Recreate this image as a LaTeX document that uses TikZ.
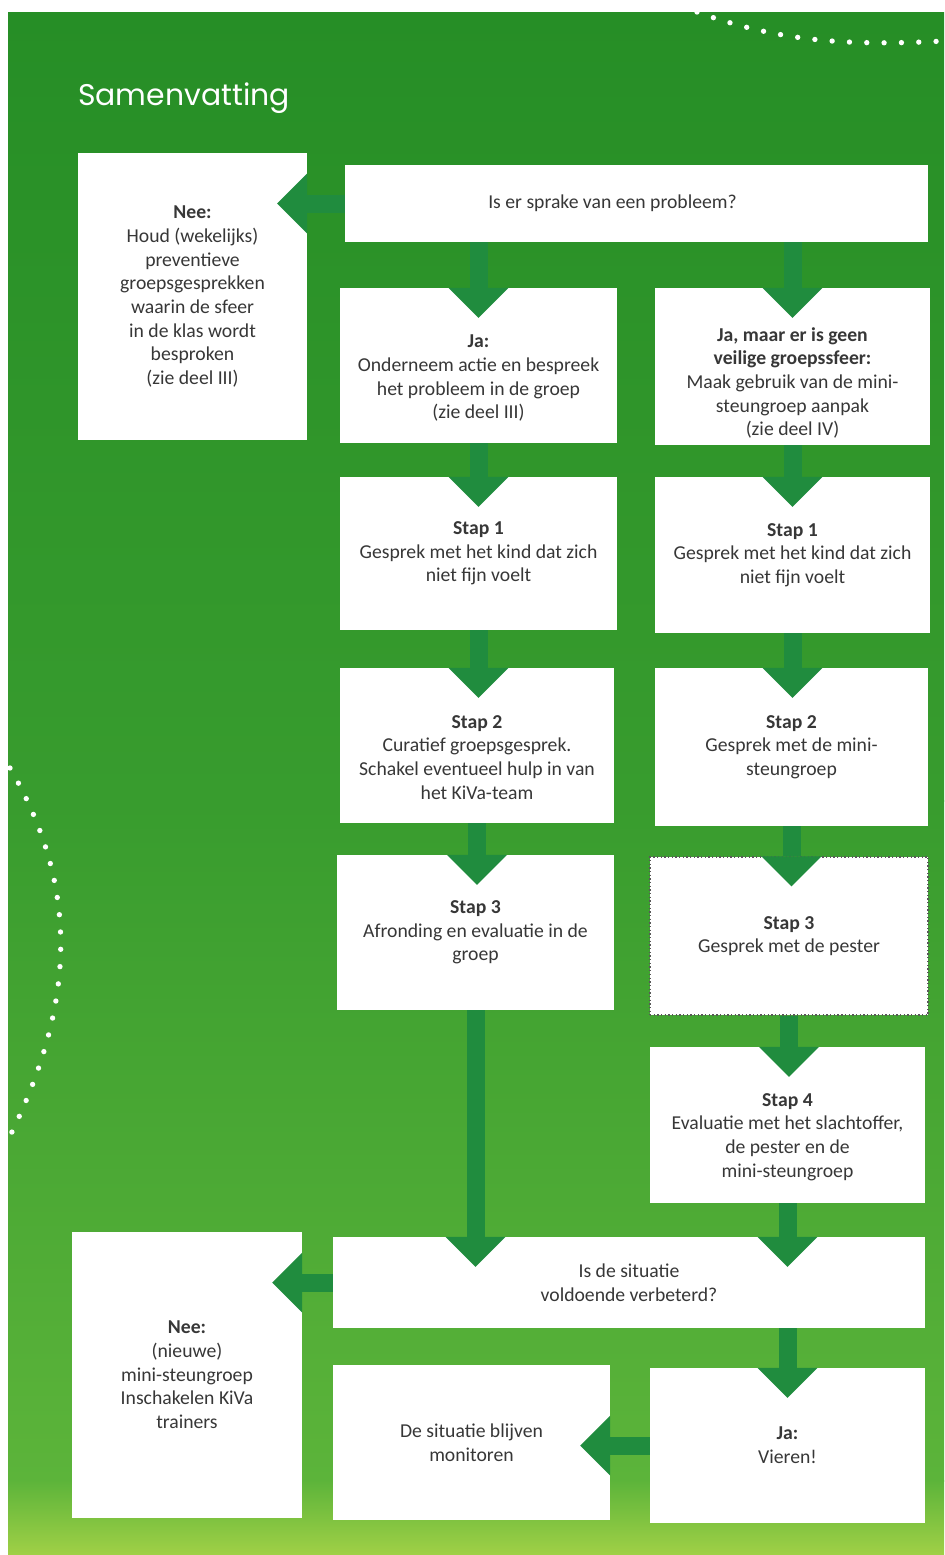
\documentclass[tikz,border=0pt]{standalone}
\usepackage{fontspec}
\setmainfont{Carlito}
\newfontfamily\titlefont{Poppins}
\usetikzlibrary{arrows.meta}
\pgfdeclarelayer{edgelayer}
\pgfdeclarelayer{nodelayer}
\pgfsetlayers{main,nodelayer,edgelayer}
\definecolor{bgtop}{RGB}{38,142,38}
\definecolor{bgmid}{RGB}{56,156,46}
\definecolor{bglow}{RGB}{92,180,58}
\definecolor{bgyel}{RGB}{160,208,70}
\definecolor{arrowgreen}{RGB}{32,140,62}
\definecolor{boxtext}{RGB}{55,55,55}
\newcommand\lager[1]{\rule{0pt}{\dimexpr 0.7\baselineskip+#1\relax}}
\tikzstyle{box}=[rectangle, fill=white, inner sep=2pt, align=center, text=boxtext, font=\fontsize{16.8}{20.2}\selectfont]
\tikzstyle{dotbox}=[box, draw=gray!70!black, line width=0.04cm, dotted]
\tikzstyle{flow}=[draw=arrowgreen, line width=0.54cm, -{Triangle[width=1.8cm, length=0.9cm, line width=0pt]}]
\tikzstyle{dots}=[draw=white, line width=0.16cm, line cap=round, dash pattern=on 0pt off 0.52cm]
\tikzstyle{title}=[text=white, font=\titlefont\fontsize{25.5}{30}\selectfont]

\begin{document}
\begin{tikzpicture}[x=0.03cm, y=-0.03cm]
	\useasboundingbox (0,0) rectangle (944,1555);
	% achtergrond
	\fill[white] (0,0) rectangle (944,1555);
	\shade[top color=bgtop, bottom color=bgmid] (8,12) rectangle (944,801);
	\shade[top color=bgmid, bottom color=bglow] (8,800) rectangle (944,1481);
	\shade[top color=bglow, bottom color=bgyel] (8,1480) rectangle (944,1555);
	\draw[dots] (697,12) .. controls (780,42) and (850,46) .. (944,41);
	\draw[dots] (10,768) .. controls (78,885) and (78,1000) .. (8,1140);
	\node[title] (titel) at (184,98) {Samenvatting};
	\begin{pgfonlayer}{nodelayer}
		\node [style=box, minimum width=6.87cm, minimum height=8.61cm] (nee1) at (192.5, 296.5) {\textbf{Nee:}\\Houd (wekelijks)\\preventieve\\groepsgesprekken\\waarin de sfeer\\in de klas wordt\\besproken\\(zie deel III)};
		\node [style=box, minimum width=17.49cm, minimum height=2.31cm] (vraag1) at (636.5, 203.5) {Is er sprake van een probleem?\hspace*{1.44cm}};
		\node [style=box, minimum width=8.31cm, minimum height=4.65cm] (ja) at (478.5, 365.5) {\lager{0.66cm}\textbf{Ja:}\\Onderneem actie en bespreek\\het probleem in de groep\\(zie deel III)};
		\node [style=box, minimum width=8.25cm, minimum height=4.71cm] (jamaar) at (792.5, 366.5) {\lager{0.9cm}\textbf{Ja, maar er is geen}\\\textbf{veilige groepssfeer:}\\Maak gebruik van de mini-\\steungroep aanpak\\(zie deel IV)};
		\node [style=box, minimum width=8.31cm, minimum height=4.59cm] (stap1l) at (478.5, 553.5) {\textbf{Stap 1}\\Gesprek met het kind dat zich\\niet fijn voelt};
		\node [style=box, minimum width=8.25cm, minimum height=4.68cm] (stap1r) at (792.5, 555) {\textbf{Stap 1}\\Gesprek met het kind dat zich\\niet fijn voelt};
		\node [style=box, minimum width=8.22cm, minimum height=4.65cm] (stap2l) at (477, 745.5) {\lager{0.6cm}\textbf{Stap 2}\\Curatief groepsgesprek.\\Schakel eventueel hulp in van\\het KiVa-team};
		\node [style=box, minimum width=8.19cm, minimum height=4.74cm] (stap2r) at (791.5, 747) {\textbf{Stap 2}\\Gesprek met de mini-\\steungroep};
		\node [style=box, minimum width=8.31cm, minimum height=4.65cm] (stap3l) at (475.5, 932.5) {\textbf{Stap 3}\\Afronding en evaluatie in de\\groep};
		\node [style=dotbox, minimum width=8.34cm, minimum height=4.74cm] (stap3r) at (789, 936) {\textbf{Stap 3}\\Gesprek met de pester};
		\node [style=box, minimum width=8.25cm, minimum height=4.68cm] (stap4) at (787.5, 1125) {\lager{0.6cm}\textbf{Stap 4}\\Evaluatie met het slachtoffer,\\de pester en de\\mini-steungroep};
		\node [style=box, minimum width=17.76cm, minimum height=2.73cm] (vraag2) at (629, 1282.5) {Is de situatie\\voldoende verbeterd?};
		\node [style=box, minimum width=6.9cm, minimum height=8.58cm] (nee2) at (187, 1375) {\textbf{Nee:}\\(nieuwe)\\mini-steungroep\\Inschakelen KiVa\\trainers};
		\node [style=box, minimum width=8.31cm, minimum height=4.65cm] (monitor) at (471.5, 1442.5) {De situatie blijven\\monitoren};
		\node [style=box, minimum width=8.25cm, minimum height=4.65cm] (vieren) at (787.5, 1445.5) {\textbf{Ja:}\\Vieren!};
	\end{pgfonlayer}
	\begin{pgfonlayer}{edgelayer}
		\draw [style=flow] (vraag1.west) to ([xshift=-0.9cm]nee1.east |- vraag1.west);
		\draw [style=flow] (vraag1.south -| ja.north) to ([yshift=-0.9cm]ja.north);
		\draw [style=flow] (vraag1.south -| jamaar.north) to ([yshift=-0.9cm]jamaar.north);
		\draw [style=flow] (ja.south) to ([yshift=-0.9cm]stap1l.north);
		\draw [style=flow] (jamaar.south) to ([yshift=-0.9cm]stap1r.north);
		\draw [style=flow] (stap1l.south) to ([yshift=-0.9cm]stap1l.south |- stap2l.north);
		\draw [style=flow] (stap1r.south) to ([yshift=-0.9cm]stap1r.south |- stap2r.north);
		\draw [style=flow] (stap2l.south) to ([yshift=-0.9cm]stap2l.south |- stap3l.north);
		\draw [style=flow] (stap2r.south) to ([yshift=-0.9cm]stap2r.south |- stap3r.north);
		\draw [style=flow] (stap3r.south) to ([yshift=-0.9cm]stap3r.south |- stap4.north);
		\draw [style=flow] (stap3l.south) to ([yshift=-0.9cm]stap3l.south |- vraag2.north);
		\draw [style=flow] (stap4.south) to ([yshift=-0.9cm]stap4.south |- vraag2.north);
		\draw [style=flow] (vraag2.south -| vieren.north) to ([yshift=-0.9cm]vieren.north);
		\draw [style=flow] (vraag2.west) to ([xshift=-0.9cm]nee2.east |- vraag2.west);
		\draw [style=flow] (vieren.west) to ([xshift=-0.9cm]monitor.east |- vieren.west);
	\end{pgfonlayer}
\end{tikzpicture}
\end{document}
